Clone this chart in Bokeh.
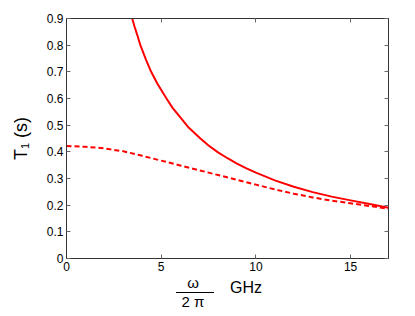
from bokeh.plotting import figure
from bokeh.models import LinearAxis, Range1d, FixedTicker, Div
from bokeh.layouts import column
from bokeh.embed import file_html
from bokeh.resources import INLINE

# Solid curve
solid_x = [3.47, 3.6, 3.75, 3.9, 4.2, 4.47, 4.8, 5.28, 5.6, 6.0, 6.46, 7.07, 7.5, 8.0, 8.5, 9.0, 9.5,
           10.0, 11.0, 12.0, 13.0, 14.0, 15.0, 16.0, 17.0]
solid_y = [0.90, 0.868, 0.835, 0.80, 0.745, 0.70, 0.655, 0.60, 0.565, 0.53, 0.49, 0.45, 0.424, 0.398,
           0.376, 0.356, 0.338, 0.322, 0.293, 0.269, 0.249, 0.232, 0.218, 0.204, 0.190]

# Dashed curve
dash_x = [0, 1, 2, 3, 4, 5, 6, 7, 8, 9, 10, 11, 12, 13, 14, 15, 16, 17]
dash_y = [0.422, 0.419, 0.413, 0.402, 0.385, 0.367, 0.349, 0.331, 0.313, 0.295, 0.277, 0.259,
          0.243, 0.229, 0.217, 0.207, 0.197, 0.186]

x_ticks = [0, 5, 10, 15]
y_ticks = [0, 0.1, 0.2, 0.3, 0.4, 0.5, 0.6, 0.7, 0.8, 0.9]

FONT = "Liberation Sans"
AX = "#333333"

W = 405
p = figure(width=W, height=276, output_backend="svg", toolbar_location=None,
           x_range=Range1d(0, 17), y_range=Range1d(0, 0.9),
           min_border_left=66, min_border_right=W - 388, min_border_top=18, min_border_bottom=18)
p.grid.visible = False
p.outline_line_color = AX
p.background_fill_color = "white"
p.border_fill_color = "white"

for ax in p.xaxis + p.yaxis:
    ax.major_tick_in = 4
    ax.major_tick_out = 0
    ax.minor_tick_line_color = None
    ax.axis_line_color = AX
    ax.major_tick_line_color = "#666666"
    ax.major_label_text_font = FONT
    ax.major_label_text_font_size = "12px"
    ax.major_label_text_color = "black"
    ax.major_label_standoff = 3
p.xaxis.ticker = FixedTicker(ticks=x_ticks)
p.yaxis.ticker = FixedTicker(ticks=y_ticks)
p.yaxis.major_label_overrides = {0: "0"}

p.yaxis.axis_label = "T\u2081 (s)"
p.yaxis.axis_label_text_font = FONT
p.yaxis.axis_label_text_font_size = "18px"
p.yaxis.axis_label_text_font_style = "normal"
p.yaxis.axis_label_text_color = "black"
p.yaxis.axis_label_standoff = 13

top = LinearAxis(ticker=FixedTicker(ticks=x_ticks),
                 major_label_overrides={t: "" for t in x_ticks},
                 major_tick_in=4, major_tick_out=0, minor_tick_line_color=None,
                 axis_line_color=AX, major_tick_line_color="#666666", major_label_standoff=0)
right = LinearAxis(ticker=FixedTicker(ticks=y_ticks),
                   major_label_overrides={t: "" for t in y_ticks},
                   major_tick_in=4, major_tick_out=0, minor_tick_line_color=None,
                   axis_line_color=AX, major_tick_line_color="#666666", major_label_standoff=0)
p.add_layout(top, "above")
p.add_layout(right, "right")

p.line(solid_x, solid_y, line_color="#ff0000", line_width=2)
p.line(dash_x, dash_y, line_color="#ff0000", line_width=2, line_dash="5 3")

# x axis label: fraction omega / 2 pi  GHz (HTML text below the plot)
y0 = 281
x0 = 4
html = f"""
<div style="position:relative;width:{W}px;height:40px;font-family:'Liberation Sans',sans-serif;color:black;">
  <span style="position:absolute;left:{192 - x0}px;top:{282.5 - y0 - 9}px;font-size:15px;line-height:18px;transform:translateX(-50%);">ω</span>
  <div style="position:absolute;left:{175 - x0}px;top:{291.8 - y0}px;width:38px;height:1px;background:black;"></div>
  <span style="position:absolute;left:{192 - x0}px;top:{301.7 - y0 - 9}px;font-size:15px;line-height:18px;transform:translateX(-50%);white-space:nowrap;">2 π</span>
  <span style="position:absolute;left:{229 - x0}px;top:{288 - y0 - 10}px;font-size:16px;line-height:20px;">GHz</span>
</div>
"""
d = Div(text=html, width=W, height=40)

layout = column(p, d, spacing=0)
open("out.html", "w").write(file_html(layout, INLINE))
